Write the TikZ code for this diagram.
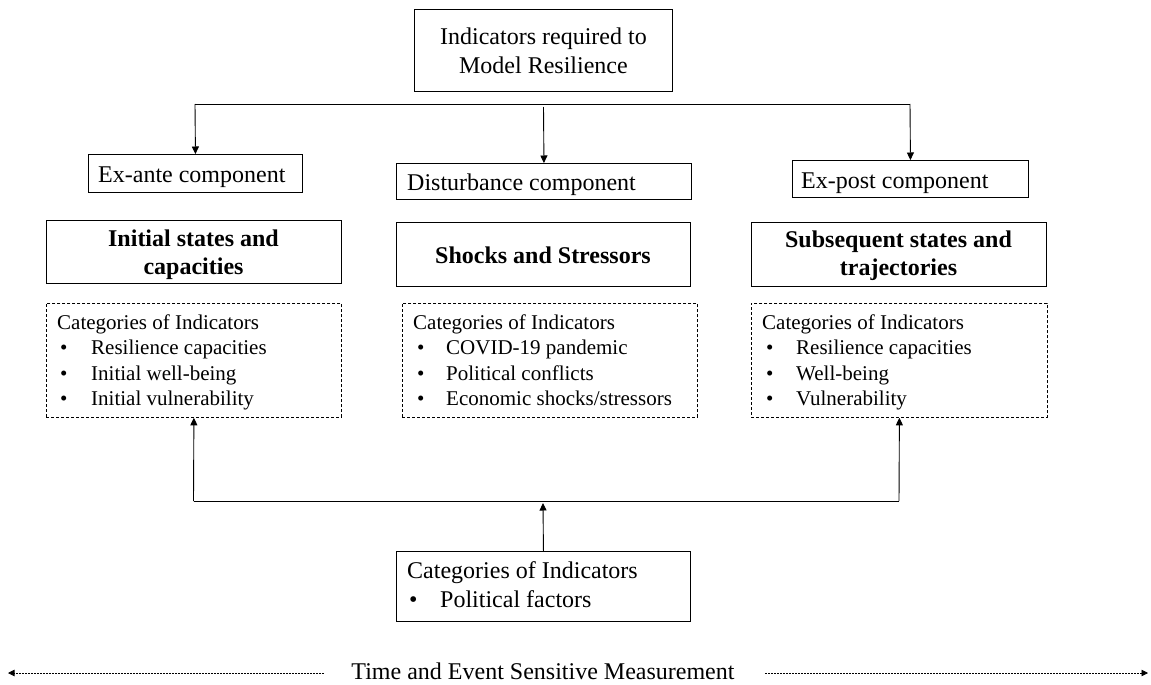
\documentclass[tikz,border=0pt]{standalone}
\usepackage{fontspec}
\setmainfont{Liberation Serif}
\usetikzlibrary{arrows.meta}
\begin{document}
\begin{tikzpicture}[x=1pt,y=-1pt,
  box/.style={draw=black, line width=0.9pt, rectangle, inner sep=0pt, anchor=north west},
  dbox/.style={box, dash pattern=on 3pt off 2pt, line width=0.8pt},
  big/.style={font=\fontsize{24}{29}\selectfont, inner sep=0pt},
  bigb/.style={font=\fontsize{24}{29}\selectfont\bfseries, inner sep=0pt, anchor=base},
  small/.style={font=\fontsize{21}{25}\selectfont, inner sep=0pt, anchor=base west},
  line/.style={draw=black, line width=0.9pt},
  arr/.style={line, -{Triangle[length=7.5pt,width=7pt]}},
  dotarr/.style={draw=black, line width=0.8pt, dash pattern=on 2pt off 1pt, -{Triangle[length=6.5pt,width=6.5pt]}}
]
\useasboundingbox (0,0) rectangle (1151,685);

% top
\node[box, minimum width=258pt, minimum height=82pt, align=center, big] (top) at (414,9) {Indicators required to\\Model Resilience};

% components
\node[box, minimum width=214pt, minimum height=38pt] (exante) at (88,154) {};
\node[big, anchor=base west] (exanteT) at (98,182) {Ex-ante component};
\node[box, minimum width=295pt, minimum height=36pt] (dist) at (396,163) {};
\node[big, anchor=base west] (distT) at (407,190) {Disturbance component};
\node[box, minimum width=236pt, minimum height=37pt] (expost) at (792,160) {};
\node[big, anchor=base west] (expostT) at (801,188) {Ex-post component};

\coordinate (hl) at (195,104);
\coordinate (hr) at (910,104);
\coordinate (mtop) at (543.5,107);
\draw[line] (hl) -- (hr);
\draw[arr] (hl) -- (exante.north);
\draw[arr] (hr) -- (expost.north);
\draw[arr] (mtop) -- (dist.north);

% bold boxes
\node[box, minimum width=295pt, minimum height=63pt] (init) at (46,220) {};
\node[bigb] (initA) at (193.5,246) {Initial states and};
\node[bigb] (initB) at (193.5,274) {capacities};
\node[box, minimum width=294pt, minimum height=64pt] (shock) at (396,222) {};
\node[bigb] (shockT) at (543,263) {Shocks and Stressors};
\node[box, minimum width=295pt, minimum height=64pt] (subs) at (751,222) {};
\node[bigb] (subsA) at (898.5,247) {Subsequent states and};
\node[bigb] (subsB) at (898.5,275) {trajectories};

% dashed boxes
\node[dbox, minimum width=295pt, minimum height=114pt] (dl) at (46,303) {};
\node[small] (dl0) at (57,329) {Categories of Indicators};
\node[small] (dl1b) at (60,354) {•};
\node[small] (dl1) at (91,354) {Resilience capacities};
\node[small] (dl2b) at (60,380) {•};
\node[small] (dl2) at (91,380) {Initial well-being};
\node[small] (dl3b) at (60,405) {•};
\node[small] (dl3) at (91,405) {Initial vulnerability};

\node[dbox, minimum width=295pt, minimum height=114pt] (dm) at (402,303) {};
\node[small] (dm0) at (413,329) {Categories of Indicators};
\node[small] (dm1b) at (417,354) {•};
\node[small] (dm1) at (446,354) {COVID-19 pandemic};
\node[small] (dm2b) at (417,380) {•};
\node[small] (dm2) at (446,380) {Political conflicts};
\node[small] (dm3b) at (417,405) {•};
\node[small] (dm3) at (446,405) {Economic shocks/stressors};

\node[dbox, minimum width=296pt, minimum height=114pt] (dr) at (751,303) {};
\node[small] (dr0) at (762,329) {Categories of Indicators};
\node[small] (dr1b) at (766,354) {•};
\node[small] (dr1) at (796,354) {Resilience capacities};
\node[small] (dr2b) at (766,380) {•};
\node[small] (dr2) at (796,380) {Well-being};
\node[small] (dr3b) at (766,405) {•};
\node[small] (dr3) at (796,405) {Vulnerability};

% bottom box
\node[box, minimum width=294pt, minimum height=70pt] (pol) at (396,551) {};
\node[big, anchor=base west] (pol0) at (407,578) {Categories of Indicators};
\node[big, anchor=base west] (pol1b) at (409,607) {•};
\node[big, anchor=base west] (pol1) at (440,607) {Political factors};

\coordinate (bl) at (193.5,501);
\coordinate (br) at (899,501);
\coordinate (bm) at (543,503);
\draw[line] (bl) -- (br);
\draw[arr] (bl) -- (dl.south);
\draw[arr] (br) -- (dr.south);
\draw[arr] (pol.north) -- (bm);

% time line
\node[big, anchor=base] (time) at (543,679) {Time and Event Sensitive Measurement};
\coordinate (tl1) at (324,673);
\coordinate (tl2) at (8,673);
\coordinate (tr1) at (765,673);
\coordinate (tr2) at (1148,673);
\draw[dotarr] (tl1) -- (tl2);
\draw[dotarr] (tr1) -- (tr2);
\end{tikzpicture}
\end{document}
